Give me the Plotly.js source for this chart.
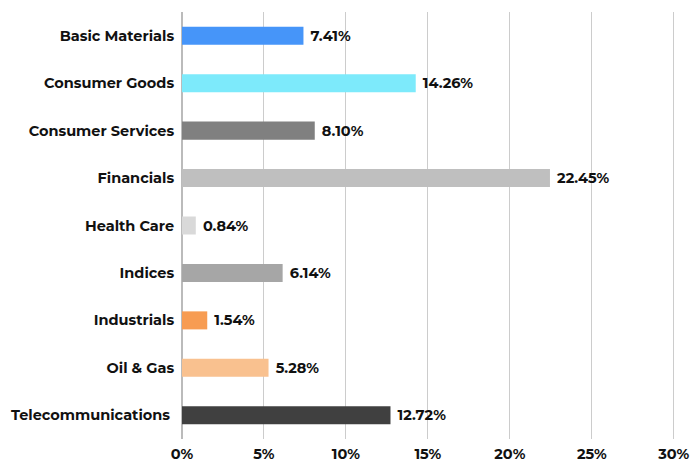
<!DOCTYPE html>
<html><head><meta charset="utf-8">
<script src="https://cdn.plot.ly/plotly-3.0.1.min.js"></script>
<style>body{margin:0;background:#fff}#c{width:693px;height:462px}</style>
</head><body><div id="c"></div>
<script>
const categories = ["Basic Materials","Consumer Goods","Consumer Services","Financials","Health Care","Indices","Industrials","Oil & Gas","Telecommunications "];
const values = [7.41,14.26,8.10,22.45,0.84,6.14,1.54,5.28,12.72];
const colors = ["#4695F9","#7DEAFB","#808080","#BFBFBF","#D9D9D9","#A6A6A6","#F79C52","#F9C18F","#404040"];
const tickValues = [0,5,10,15,20,25,30];
const tickLabels = ["0%","5%","10%","15%","20%","25%","30%"];
const font = "Montserrat, 'Open Sans', sans-serif";
Plotly.newPlot("c", [{
  type: "bar", orientation: "h",
  y: categories, x: values,
  marker: {color: colors},
  width: 0.38,
  text: values.map(v => " " + v.toFixed(2) + "%"),
  textposition: "outside",
  cliponaxis: false,
  textfont: {family: font, size: 14.5, color: "#111", weight: 700},
  hoverinfo: "none"
}], {
  width: 693, height: 462,
  margin: {l: 182, r: 16, t: 12, b: 23},
  paper_bgcolor: "#fff", plot_bgcolor: "#fff",
  showlegend: false,
  font: {family: font, size: 14.5, color: "#111", weight: 700},
  xaxis: {
    range: [0, 30.2], tickvals: tickValues, ticktext: tickLabels,
    showgrid: true, gridcolor: "#cccccc", gridwidth: 1,
    zeroline: true, zerolinecolor: "#bbbbbb", zerolinewidth: 2,
    showline: false, ticks: "outside", ticklen: 2, tickcolor: "rgba(0,0,0,0)",
    tickfont: {family: font, size: 14.5, color: "#111", weight: 700},
    fixedrange: true
  },
  yaxis: {
    autorange: "reversed", type: "category",
    showgrid: false, zeroline: false, showline: false,
    ticks: "outside", ticklen: 4, tickcolor: "rgba(0,0,0,0)",
    tickfont: {family: font, size: 14.5, color: "#111", weight: 700},
    fixedrange: true
  }
}, {displayModeBar: false, staticPlot: true});
</script></body></html>
